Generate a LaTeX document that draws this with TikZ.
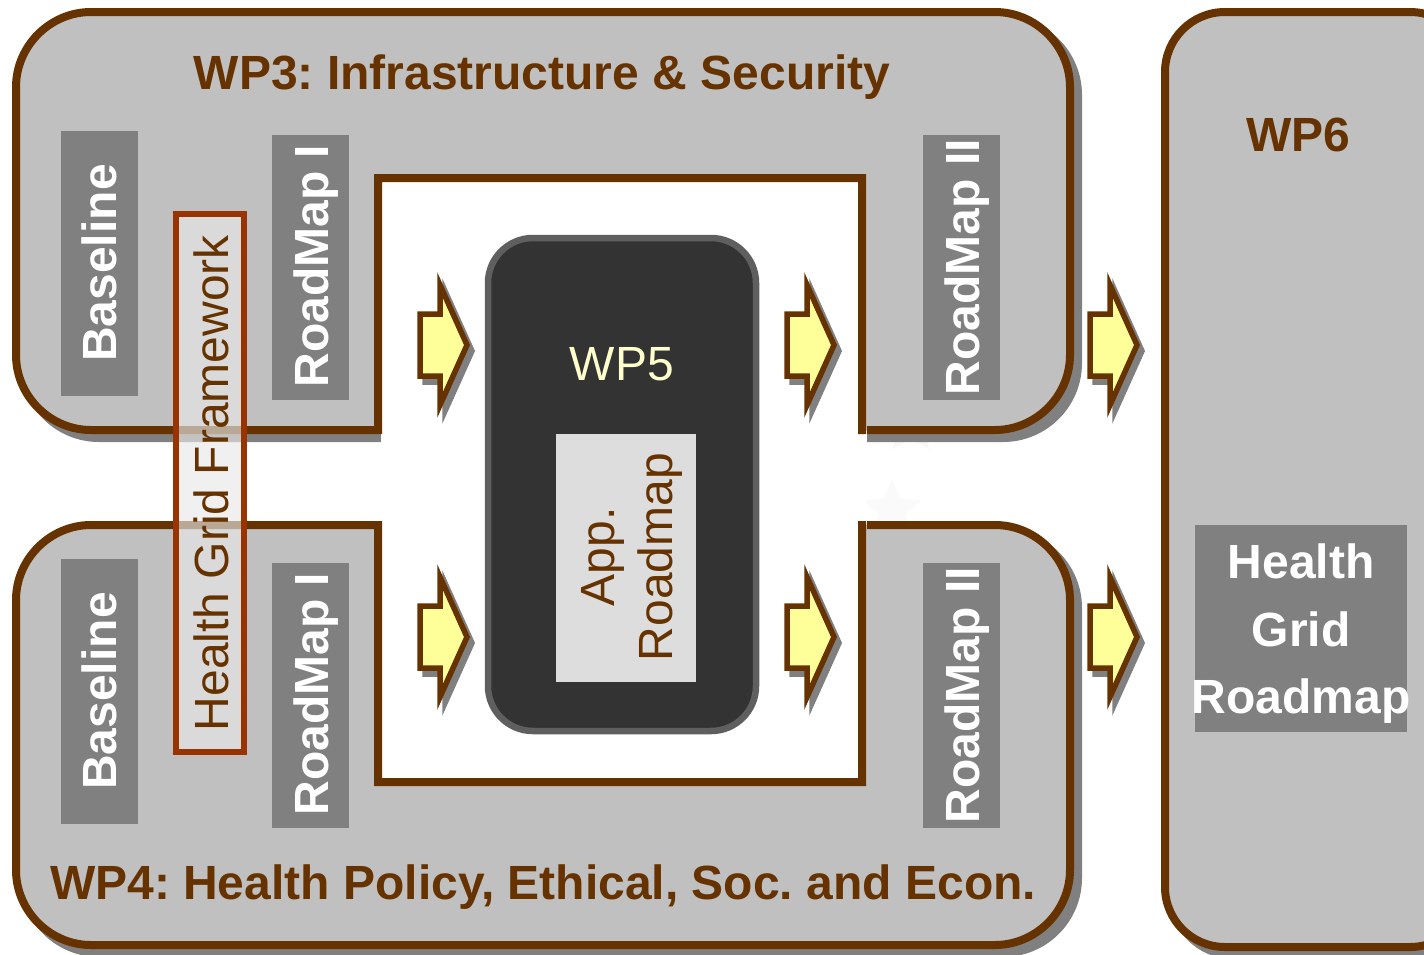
\documentclass[tikz,border=0pt]{standalone}
\usepackage{fontspec}
\setmainfont{Liberation Sans}
\usetikzlibrary{shapes.geometric}
\definecolor{brownline}{HTML}{663300}
\definecolor{panelgrey}{HTML}{C0C0C0}
\definecolor{shadowgrey}{HTML}{808080}
\definecolor{arrowyellow}{HTML}{FFFF99}
\definecolor{framered}{HTML}{993300}
\definecolor{wpdark}{HTML}{333333}
\definecolor{wpedge}{HTML}{5F5F5F}
\definecolor{cream}{HTML}{FFFFCC}
\definecolor{lightpanel}{HTML}{DDDDDD}
\newcommand{\bigfont}{\fontsize{48}{56}\selectfont\frenchspacing}
\tikzset{
  panel/.style={fill=panelgrey,draw=brownline,line width=8pt,miter limit=10},
  panelshadow/.style={fill=shadowgrey,draw=shadowgrey,line width=8pt},
  greybarbox/.style={fill=shadowgrey,draw=none},
  barlabel/.style={rotate=90,text=white,font=\bigfont\bfseries,inner sep=0pt},
  title/.style={text=brownline,font=\bigfont\bfseries,inner sep=0pt},
  arrowshape/.style={fill=arrowyellow,draw=brownline,line width=5.5pt,miter limit=10},
  arrowshadow/.style={fill=shadowgrey,draw=shadowgrey,line width=5.5pt,miter limit=10},
}
\newcommand{\blockarrow}[3]{%
  \coordinate (#3) at (#1,#2);
  \begin{scope}[shift={(#3)}]
    \path[arrowshadow,shift={(5,6)}] (-48,-31) -- (-28,-31) -- (-28,-60) -- (-1,0) -- (-28,60) -- (-28,31) -- (-48,31) -- cycle;
    \path[arrowshape] (-48,-31) -- (-28,-31) -- (-28,-60) -- (-1,0) -- (-28,60) -- (-28,31) -- (-48,31) -- cycle;
  \end{scope}}
\begin{document}
\begin{tikzpicture}[x=1pt,y=-1pt]
\path[clip] (0,0) rectangle (1424,954);
\fill[white] (0,0) rectangle (1424,954);
% faint stars in the gap
\node[star,star points=5,star point ratio=2.2,fill=black!2,draw=none,minimum size=62pt,inner sep=0pt] (ghostlow) at (892,510) {};
\node[star,star points=5,star point ratio=2.2,fill=black!3,draw=none,minimum size=62pt,inner sep=0pt] (ghosthigh) at (911,424) {};
% shadows
\path[panelshadow,rounded corners=75pt] (24,20) rectangle (1078,438);
\path[panelshadow,rounded corners=75pt] (24,533) rectangle (1078,953);
\path[panelshadow,rounded corners=60pt] (1173,20) rectangle (1478,955);
% white centre gap
\fill[white] (381,178) rectangle (867,782);
% panels
\path[panel] (867,430) -- (995,430) .. controls (1036,430) and (1070,396) .. (1070,355) -- (1070,87) .. controls (1070,46) and (1036,12) .. (995,12) -- (91,12) .. controls (50,12) and (16,46) .. (16,87) -- (16,355) .. controls (16,396) and (50,430) .. (91,430) -- (378,430) -- (378,178) -- (862,178) -- (862,434);
\path[panel] (867,525) -- (995,525) .. controls (1036,525) and (1070,559) .. (1070,600) -- (1070,870) .. controls (1070,911) and (1036,945) .. (995,945) -- (91,945) .. controls (50,945) and (16,911) .. (16,870) -- (16,600) .. controls (16,559) and (50,525) .. (91,525) -- (378,525) -- (378,782) -- (862,782) -- (862,521);
\path[panel,rounded corners=60pt] (1165,12) rectangle (1470,947);
% titles
\node[title] (wp3) at (542,77) {WP3: Infrastructure \& Security};
\node[title] (wp4) at (543,887) {WP4: Health Policy, Ethical, Soc. and Econ.};
\node[title] (wp6) at (1298,135) {WP6};
% grey bars
\fill[greybarbox] (61,131) rectangle (138,396);
\node[barlabel] (base1) at (99,263) {Baseline};
\fill[greybarbox] (272,135) rectangle (349,400);
\node[barlabel] (rm1a) at (316,266) {RoadMap I};
\fill[greybarbox] (923,135) rectangle (1000,400);
\node[barlabel] (rm2a) at (967,267) {RoadMap II};
\fill[greybarbox] (61,559) rectangle (138,824);
\node[barlabel] (base2) at (99,691) {Baseline};
\fill[greybarbox] (272,563) rectangle (349,828);
\node[barlabel] (rm1b) at (316,694) {RoadMap I};
\fill[greybarbox] (923,563) rectangle (1000,828);
\node[barlabel] (rm2b) at (967,695) {RoadMap II};
% framework band
\fill[black!9,fill opacity=.65] (176,214) rectangle (244,752);
\draw[framered,line width=5.5pt] (176,214) rectangle (244,752);
\node[rotate=90,text=brownline,font=\bigfont,inner sep=0pt] (hgf) at (211,483) {Health Grid Framework};
% WP5
\draw[fill=wpdark,draw=wpedge,line width=6.5pt,rounded corners=45pt] (488,238) rectangle (756,731);
\node[text=cream,font=\bigfont,inner sep=0pt] (wp5) at (622,364) {WP5};
\fill[lightpanel] (556,434) rectangle (696,682);
\node[rotate=90,text=brownline,font=\bigfont,align=center,inner sep=0pt] (app) at (632,557) {App.\\[2pt]Roadmap};
% arrows
\blockarrow{468}{345}{a1}
\blockarrow{835}{345}{a2}
\blockarrow{1138}{345}{a3}
\blockarrow{468}{637}{a4}
\blockarrow{835}{637}{a5}
\blockarrow{1138}{637}{a6}
% roadmap box
\fill[greybarbox] (1195,525) rectangle (1407,732);
\node[text=white,font=\bigfont\bfseries,inner sep=0pt] (hg1) at (1301,561) {Health};
\node[text=white,font=\bigfont\bfseries,inner sep=0pt] (hg2) at (1301,629) {Grid};
\node[text=white,font=\bigfont\bfseries,inner sep=0pt] (hg3) at (1301,701) {Roadmap};
\end{tikzpicture}
\end{document}
